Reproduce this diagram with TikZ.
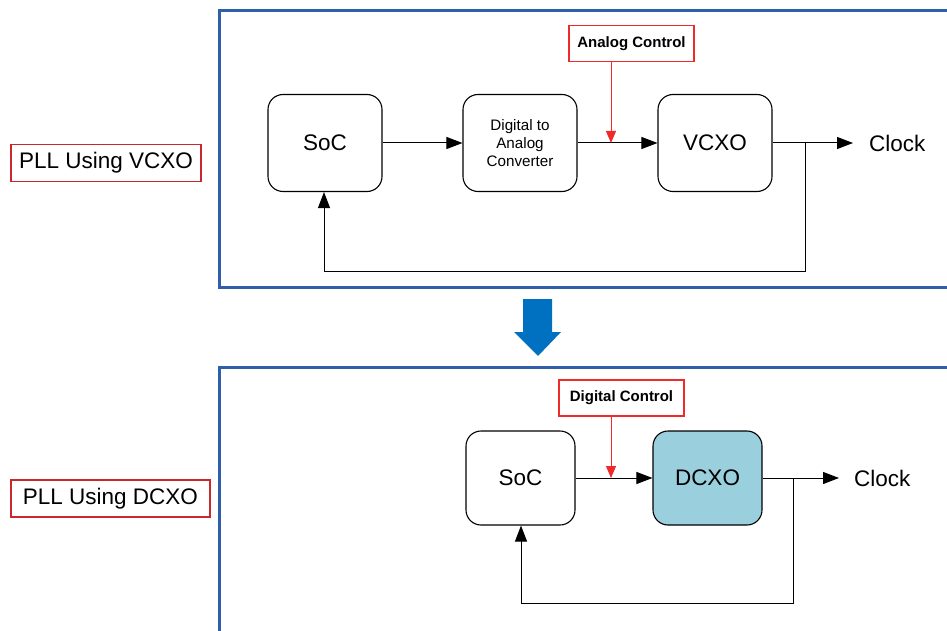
\documentclass[tikz,border=0pt]{standalone}
\usepackage{fontspec}
\setmainfont{Liberation Sans}
\usetikzlibrary{arrows.meta}
\definecolor{frameblue}{HTML}{2E5FA8}
\definecolor{arrowblue}{HTML}{0070C0}
\definecolor{ctrlred}{HTML}{EE2A2A}
\definecolor{tagred}{HTML}{C8282E}
\definecolor{dcxofill}{HTML}{9ACFDD}
\tikzset{
  frame/.style={draw=frameblue, line width=3pt},
  block/.style={draw=black, line width=1.1pt, rounded corners=15pt, inner sep=0pt,
    minimum width=114pt, minimum height=97pt, align=center, font=\fontsize{22.5}{26}\selectfont},
  tag/.style={draw=tagred, line width=1.1pt, inner sep=0pt, minimum height=37pt,
    font=\fontsize{22.5}{26}\selectfont},
  ctrl/.style={draw=ctrlred, line width=1.1pt, inner sep=0pt, minimum width=125pt,
    minimum height=36pt, font=\bfseries\fontsize{15}{18}\selectfont},
  sig/.style={draw=black, line width=1pt, -{Triangle[length=16pt,width=12pt]}},
  wire/.style={draw=black, line width=1pt},
  ctrlsig/.style={draw=ctrlred, line width=1pt, -{Triangle[length=12pt,width=10pt]}},
  outlabel/.style={anchor=west, inner sep=0pt, font=\fontsize{22.5}{26}\selectfont}
}
\begin{document}
\begin{tikzpicture}[x=1pt, y=-1pt]
\useasboundingbox (0,0) rectangle (947,631);
\clip (0,0) rectangle (947,631);
\fill[white] (0,0) rectangle (947,631);

% ---- upper panel: PLL built around a VCXO
\draw[frame] (219,11) rectangle (980,287);
\node[tag, minimum width=190pt] (tagv) at (106,163) {PLL Using VCXO};

\node[block] (soc1) at (325,143) {SoC};
\node[block, font=\fontsize{15.2}{18}\selectfont] (dac) at (520,143) {Digital to\\Analog\\Converter};
\node[block] (vcxo) at (715,143) {VCXO};
\node[ctrl] (actl) at (631.5,43.5) {Analog Control};
\node[outlabel] (clk1) at (869,143) {Clock};

\coordinate (tap1) at (805,143);
\coordinate (tip1) at (853,143);
\coordinate (low1) at (805,271);
\coordinate (ret1) at (324,271);
\coordinate (inj1) at (611,143);

\draw[sig] (soc1.east) -- (dac.west);
\draw[sig] (dac.east) -- (vcxo.west);
\draw[sig] (vcxo.east) -- (tip1);
\draw[wire] (tap1) -- (low1) -- (ret1);
\draw[sig] (ret1) -- (ret1 |- soc1.south);
\draw[ctrlsig] (actl.south -| inj1) -- (inj1);

% ---- transition arrow
\fill[arrowblue] (523,299) -- (552,299) -- (552,332) -- (561,332) -- (538,356)
  -- (514,332) -- (523,332) -- cycle;

% ---- lower panel: PLL built around a DCXO
\draw[frame] (219,367) rectangle (980,700);
\node[tag, minimum width=199pt] (tagd) at (110.5,498.5) {PLL Using DCXO};

\node[block, minimum width=109pt, minimum height=94pt] (soc2) at (520.5,478) {SoC};
\node[block, fill=dcxofill, minimum width=109pt, minimum height=94pt] (dcxo) at (707.5,478) {DCXO};
\node[ctrl] (dctl) at (621.5,398) {Digital Control};
\node[outlabel] (clk2) at (854,478) {Clock};

\coordinate (tap2) at (793,478);
\coordinate (tip2) at (839,478);
\coordinate (low2) at (793,603);
\coordinate (ret2) at (521,603);
\coordinate (inj2) at (611,478);

\draw[sig] (soc2.east) -- (dcxo.west);
\draw[sig] (dcxo.east) -- (tip2);
\draw[wire] (tap2) -- (low2) -- (ret2);
\draw[sig] (ret2) -- (ret2 |- soc2.south);
\draw[ctrlsig] (dctl.south -| inj2) -- (inj2);
\end{tikzpicture}
\end{document}
